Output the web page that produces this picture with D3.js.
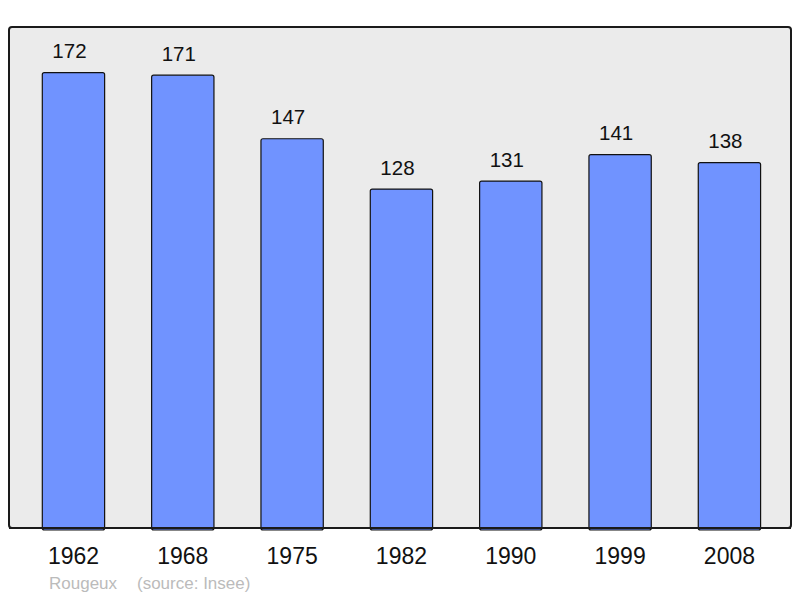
<!DOCTYPE html>
<html>
<head>
<meta charset="utf-8">
<script src="https://cdnjs.cloudflare.com/ajax/libs/d3/7.8.5/d3.min.js"></script>
<style>
  body { margin: 0; background: #fff; }
</style>
</head>
<body>
<div class="chart"></div>
<script>
var years = ['1962', '1968', '1975', '1982', '1990', '1999', '2008'];
var population = [172, 171, 147, 128, 131, 141, 138];
var credits = ['Rougeux', '(source: Insee)'];

var width = 800, height = 598;
var frameLeft = 9, frameTop = 27, frameRight = 791, frameBottom = 528;
var barColor = '#7093ff', backColor = '#ebebeb';
var font = 'Liberation Sans, Arial, sans-serif';

var svg = d3.select('.chart')
			.append('svg')
			.attr('width', width)
			.attr('height', height);

var x = d3.scaleBand()
		.domain(years)
		.range([18.8, 784.1])
		.paddingInner(0.43)
		.paddingOuter(0.215);

var y = d3.scaleLinear()
		.domain([0, d3.max(population) * 1.1])
		.range([frameBottom, frameTop]);

// frame
svg.append('rect')
	.attr('x', frameLeft)
	.attr('y', frameTop)
	.attr('width', frameRight - frameLeft)
	.attr('height', frameBottom - frameTop)
	.attr('rx', 3)
	.attr('fill', backColor)
	.attr('stroke', '#1a1a1a')
	.attr('stroke-width', 2);

// bars
svg.selectAll('.bar')
	.data(population)
	.enter()
	.append('rect')
	.attr('class', 'bar')
	.attr('x', function(d, i){ return x(years[i]); })
	.attr('y', function(d){ return y(d); })
	.attr('width', x.bandwidth())
	.attr('height', function(d){ return frameBottom - y(d) + 2; })
	.attr('rx', 2)
	.attr('fill', barColor)
	.attr('stroke', '#111')
	.attr('stroke-width', 1.2);

// redraw bottom edge of frame over bars
svg.append('line')
	.attr('x1', frameLeft)
	.attr('x2', frameRight)
	.attr('y1', frameBottom)
	.attr('y2', frameBottom)
	.attr('stroke', '#1a1a1a')
	.attr('stroke-width', 2);

// value labels (sit a little left of the bar centre in the original)
svg.selectAll('.val')
	.data(population)
	.enter()
	.append('text')
	.attr('x', function(d, i){ return x(years[i]) + x.bandwidth()/2 - 4; })
	.attr('y', function(d){ return y(d) - 14.5; })
	.attr('text-anchor', 'middle')
	.attr('font-family', font)
	.attr('font-size', 20.5)
	.attr('fill', '#111')
	.text(function(d){ return d; });

// year labels
var xAxis = svg.append('g')
	.attr('transform', 'translate(0,' + frameBottom + ')')
	.call(d3.axisBottom(x).tickSize(0).tickPadding(0));
xAxis.select('.domain').remove();
xAxis.selectAll('text')
	.attr('dy', null)
	.attr('y', 36)
	.attr('font-family', font)
	.attr('font-size', 23)
	.attr('fill', '#111');

// credits
svg.append('text')
	.attr('x', 49)
	.attr('y', 589)
	.attr('font-family', font)
	.attr('font-size', 17)
	.attr('fill', '#bbbbbb')
	.text(credits[0]);
svg.append('text')
	.attr('x', 137)
	.attr('y', 589)
	.attr('font-family', font)
	.attr('font-size', 17)
	.attr('fill', '#bbbbbb')
	.text(credits[1]);
</script>
</body>
</html>
